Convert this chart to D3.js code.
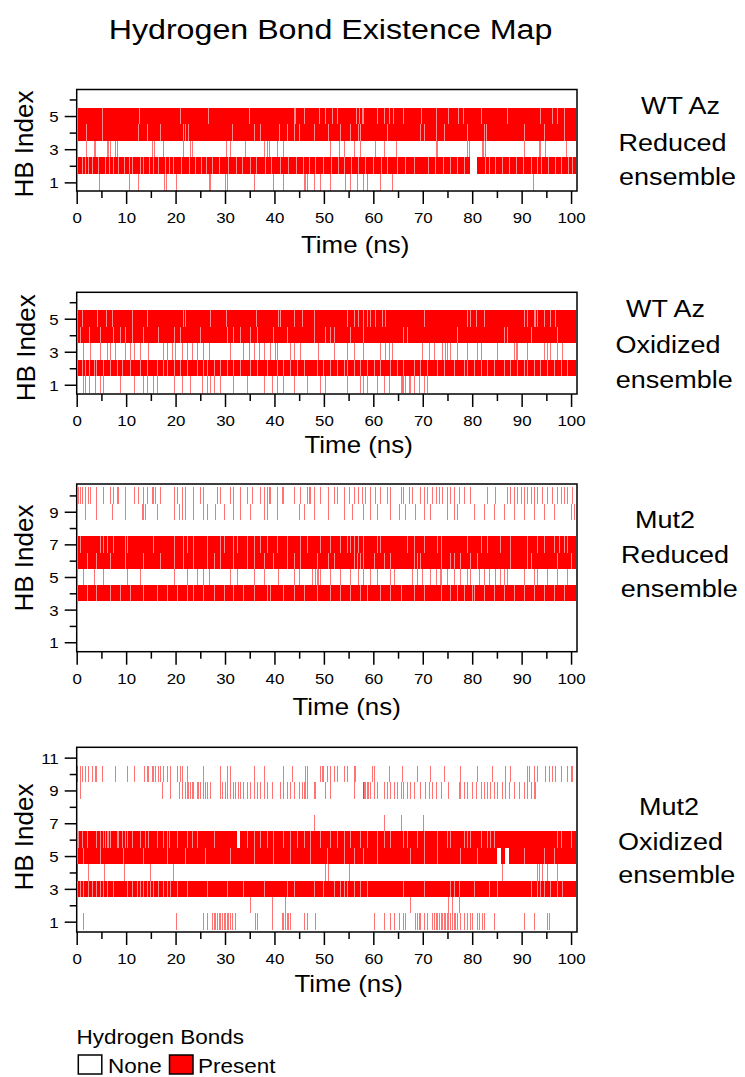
<!DOCTYPE html>
<html lang="en">
<head>
<meta charset="UTF-8">
<title>Hydrogen Bond Existence Map</title>
<style>
  body { margin: 0; background: #fff; }
  svg { display: block; font-family: "Liberation Sans", Arial, Helvetica, sans-serif; }
  .frame { fill: none; stroke: #000; stroke-width: 1.5; }
  .tick line { stroke: #000; stroke-width: 1.5; }
</style>
</head>
<body>
<svg width="745" height="1077"></svg>
<script src="https://d3js.org/d3.v7.min.js"></script>
<script>
// axis ticks
const timeMajor = [0, 10, 20, 30, 40, 50, 60, 70, 80, 90, 100];
const timeMinor = [5, 15, 25, 35, 45, 55, 65, 75, 85, 95];

// ---- WT Az, reduced ----  spans are [hb, start ns, end ns]
const wtRedSpans = [[5, 0.2, 101], [4, 0.2, 101], [2, 0.2, 79.6], [2, 80.9, 101]];
// short breaks (ns) inside the solid rows
const wtRed5 = [5.2, 12.7, 20.9, 26.5, 34.8, 44.0, 44.2, 45.9, 49.1, 50.3, 51.6, 52.6, 56.5, 57.2, 57.7, 58.0,
  60.8, 62.1, 63.1, 64.0, 66.1, 69.7, 72.6, 75.1, 77.1, 78.2, 81.7, 87.1, 93.7, 96.2, 97.2, 98.5];
const wtRed4 = [1.9, 5.2, 12.3, 14.2, 16.9, 21.5, 21.9, 22.6, 31.5, 35.8, 37.1, 41.0, 42.5, 43.9, 45.0, 47.9,
  50.9, 53.3, 55.3, 57.0, 57.4, 62.8, 69.4, 70.2, 72.7, 74.2, 79.0, 82.3, 82.7, 90.4, 94.5, 98.5];
const wtRed2 = [1.0, 1.6, 2.2, 3.0, 4.3, 5.8, 6.5, 7.4, 8.3, 9.6, 10.5, 11.2, 12.8, 13.5, 14.6, 15.5, 16.4, 17.8,
  18.6, 19.5, 21.1, 22.7, 24.0, 25.2, 26.1, 27.4, 28.8, 30.6, 32.2, 33.5, 35.0, 36.3, 38.0, 39.4, 41.2, 42.8,
  44.4, 45.8, 47.0, 48.3, 49.9, 51.4, 52.8, 54.1, 55.5, 57.0, 58.4, 60.0, 61.5, 62.7, 64.8, 66.5, 68.2, 71.0,
  72.5, 74.1, 75.6, 77.0, 78.4, 82.6, 83.4, 84.6, 86.0, 87.5, 88.9, 90.3, 91.8, 93.2, 94.0, 95.4, 96.8, 97.9, 99.3, 100.2];
// single-frame presences (ns) in the sparse rows
const wtRed3 = [1.9, 3.6, 3.8, 6.1, 6.4, 6.7, 7.8, 8.1, 15.2, 15.7, 17.5, 21.5, 22.9, 23.3, 30.1, 31.0, 34.1, 37.8,
  38.5, 38.8, 40.6, 41.8, 51.3, 53.0, 54.0, 56.0, 57.4, 60.4, 62.1, 64.5, 72.6, 72.9, 79.0, 79.3, 82.0, 82.2,
  82.5, 90.4, 93.5, 93.8, 94.8, 98.9];
const wtRed1 = [4.6, 10.5, 12.5, 17.7, 18.0, 20.0, 26.7, 26.9, 30.0, 30.4, 35.8, 39.8, 41.8, 45.9, 46.2, 46.6,
  47.9, 49.3, 51.3, 54.3, 55.3, 56.7, 58.0, 58.7, 61.4, 63.8, 92.3];

// ---- WT Az, oxidized ----
const wtOxSpans = [[5, 0.2, 101], [4, 0.2, 101], [2, 0.2, 101]];
const wtOx5 = [1.0, 4.2, 5.9, 7.1, 11.1, 14.2, 21.5, 21.9, 26.9, 30.2, 36.3, 40.8, 41.2, 43.9, 45.6, 47.9, 54.7,
  56.0, 57.0, 58.0, 58.7, 59.4, 60.4, 61.8, 62.4, 70.2, 79.0, 79.6, 80.7, 82.3, 90.4, 91.1, 92.5, 92.8, 93.1,
  94.5, 95.8, 96.8];
const wtOx4 = [0.7, 2.4, 4.7, 7.4, 8.8, 9.8, 11.1, 13.5, 16.5, 19.6, 20.9, 25.0, 30.4, 31.7, 33.1, 35.1, 36.4,
  39.8, 42.5, 47.9, 50.3, 51.3, 52.0, 55.3, 58.0, 66.1, 66.8, 76.9, 86.4, 87.1, 91.8, 97.2];
const wtOx2 = [1.0, 1.7, 2.4, 3.4, 4.0, 5.4, 6.7, 8.1, 9.1, 10.8, 12.8, 14.2, 16.2, 17.5, 18.2, 19.6, 20.9, 22.3,
  24.3, 25.6, 26.3, 27.7, 29.0, 30.4, 31.7, 33.1, 35.1, 36.4, 38.5, 40.5, 41.8, 43.2, 44.5, 45.9, 48.6, 49.9,
  51.3, 52.6, 54.0, 54.7, 56.0, 57.4, 58.7, 60.1, 61.4, 63.4, 64.8, 66.1, 68.2, 69.5, 70.9, 72.9, 74.2, 76.3,
  78.3, 79.0, 80.3, 81.7, 83.0, 84.4, 86.4, 87.7, 89.1, 90.4, 91.1, 92.5, 93.8, 95.2, 96.5, 97.9, 99.2];
const wtOx3 = [1.3, 2.6, 4.7, 6.1, 6.7, 7.8, 9.8, 10.8, 11.5, 12.8, 14.5, 17.5, 18.2, 19.2, 19.9, 21.3, 22.3, 23.3,
  24.3, 25.6, 26.7, 31.0, 33.7, 34.8, 35.8, 36.8, 37.8, 39.1, 40.2, 40.5, 43.2, 43.9, 45.2, 48.9, 52.0, 54.7,
  56.0, 58.0, 61.4, 62.4, 63.1, 63.8, 69.9, 71.2, 72.2, 73.9, 74.6, 74.9, 75.6, 76.9, 79.0, 81.0, 81.7, 85.0,
  88.4, 88.8, 89.1, 91.1, 94.5, 95.2, 95.8, 97.2, 98.2];
const wtOx1 = [1.3, 1.7, 2.4, 3.7, 4.7, 5.4, 8.8, 11.5, 13.5, 14.2, 15.5, 16.2, 19.6, 21.3, 22.9, 25.3, 26.3, 27.0,
  27.7, 29.0, 31.7, 34.4, 37.8, 39.5, 40.5, 41.8, 43.9, 46.6, 49.3, 50.3, 54.7, 57.4, 58.0, 58.7, 60.8, 62.1,
  63.1, 65.5, 65.8, 66.1, 66.5, 67.2, 67.5, 68.2, 69.2, 70.2, 70.9];

// ---- Mut2, reduced ----
const mutRedSpans = [[7, 0.2, 101], [6, 0.2, 101], [4, 0.2, 101]];
const mutRed7 = [0.7, 4.7, 5.4, 6.1, 7.4, 9.8, 10.1, 15.5, 19.6, 21.5, 22.3, 23.6, 26.3, 29.0, 29.7, 31.7, 32.4,
  34.4, 35.8, 37.1, 38.5, 40.5, 42.5, 45.2, 46.6, 49.3, 51.3, 53.3, 54.7, 55.3, 56.0, 57.0, 58.0, 60.8, 61.4,
  66.8, 68.2, 70.2, 72.9, 73.6, 79.0, 81.7, 83.0, 85.7, 87.7, 91.1, 93.1, 94.5, 96.5, 97.5, 98.5, 99.2];
const mutRed6 = [2.0, 4.0, 6.7, 9.8, 13.4, 16.9, 19.6, 21.5, 23.6, 26.3, 27.7, 29.0, 31.7, 34.4, 35.8, 37.8, 39.8,
  42.5, 43.9, 45.2, 48.6, 50.9, 52.0, 56.0, 56.7, 57.4, 58.0, 60.1, 62.1, 63.4, 68.2, 68.8, 69.5, 73.6, 75.6,
  76.3, 77.6, 79.6, 81.0, 87.7, 91.1, 91.8, 97.2, 99.9];
const mutRed4 = [2.0, 4.0, 6.7, 8.8, 10.8, 13.5, 16.2, 18.2, 20.2, 22.3, 23.6, 25.6, 27.7, 29.7, 31.7, 33.7, 35.8,
  38.5, 39.0, 41.8, 43.9, 45.9, 48.6, 51.3, 53.3, 55.3, 57.4, 58.7, 61.4, 63.4, 65.5, 68.2, 70.2, 73.6, 75.6,
  76.9, 78.3, 80.0, 80.3, 82.3, 84.4, 86.4, 88.4, 90.4, 92.5, 94.5, 96.5, 98.5];
const mutRed10 = [0.3, 0.7, 1.0, 1.7, 2.2, 2.7, 4.0, 5.4, 6.7, 7.4, 8.1, 8.4, 9.8, 11.5, 12.5, 13.5, 14.2, 15.2,
  15.5, 15.9, 16.9, 19.6, 20.2, 21.3, 21.9, 23.6, 25.0, 25.6, 28.3, 29.0, 31.0, 31.7, 33.1, 34.4, 35.4, 37.1,
  37.8, 38.5, 38.8, 39.1, 40.5, 41.5, 41.8, 43.9, 45.2, 46.6, 46.9, 47.2, 47.9, 49.3, 50.9, 52.0, 52.6, 54.0,
  55.0, 56.0, 57.0, 57.7, 58.4, 59.4, 60.4, 61.4, 62.8, 63.4, 65.5, 66.1, 67.2, 67.8, 69.5, 70.2, 70.9, 71.9,
  72.6, 73.2, 73.9, 74.9, 75.6, 76.3, 77.3, 78.3, 79.6, 83.0, 84.7, 87.1, 87.7, 88.4, 89.1, 89.8, 90.4, 91.1,
  91.8, 92.5, 93.1, 94.2, 95.2, 96.2, 97.2, 97.9, 98.5, 99.2, 100.2];
const mutRed9 = [1.7, 4.0, 7.1, 9.8, 13.2, 13.5, 13.8, 16.2, 19.6, 20.6, 21.3, 21.9, 23.6, 25.6, 26.3, 28.0, 29.7,
  31.7, 33.1, 35.1, 37.8, 38.5, 40.5, 44.9, 45.9, 47.9, 50.9, 54.0, 55.7, 58.0, 59.4, 60.8, 63.4, 65.1, 66.5,
  68.5, 70.2, 71.5, 74.9, 76.3, 76.9, 80.3, 82.3, 84.4, 86.4, 88.4, 90.4, 92.5, 94.5, 96.5, 99.9, 100.6];
const mutRed5 = [1.3, 3.5, 5.4, 10.1, 12.8, 19.6, 22.3, 24.3, 25.6, 26.7, 31.0, 32.4, 35.8, 37.8, 40.8, 43.9, 44.9,
  47.6, 48.3, 48.6, 48.9, 49.3, 51.3, 53.3, 55.3, 57.0, 58.0, 59.4, 60.8, 63.4, 64.1, 67.8, 68.8, 69.9, 71.5,
  72.6, 73.4, 73.6, 74.9, 76.3, 77.6, 79.0, 79.6, 81.3, 82.3, 83.4, 84.7, 85.7, 86.4, 87.1, 90.4, 92.5, 93.1,
  95.2, 97.2, 99.2];

// ---- Mut2, oxidized ----
const mutOxSpans = [[6, 0.2, 32.4], [6, 33.1, 101], [5, 0.2, 85.0], [5, 85.8, 86.7], [5, 87.4, 101], [3, 0.2, 101]];
const mutOx6 = [0.3, 1.0, 2.0, 4.0, 4.7, 5.4, 5.7, 6.1, 6.4, 6.7, 8.1, 8.4, 9.1, 9.8, 10.1, 11.1, 12.8, 13.8, 14.5,
  16.2, 17.5, 18.2, 18.6, 20.2, 22.3, 23.3, 24.3, 27.7, 34.4, 35.8, 37.1, 38.5, 39.8, 41.8, 43.2, 44.5, 45.9,
  47.2, 49.3, 51.3, 52.6, 54.0, 55.3, 57.4, 58.7, 60.8, 62.1, 63.4, 66.1, 66.8, 68.8, 70.2, 72.9, 74.9, 75.6,
  78.3, 79.0, 79.6, 81.7, 83.0, 83.7, 84.4, 97.2, 97.9, 99.9];
const mutOx5 = [1.3, 4.7, 9.4, 13.5, 18.2, 21.9, 26.0, 31.0, 35.8, 39.8, 43.2, 47.2, 50.6, 54.0, 56.0, 58.0, 60.8,
  67.5, 70.2, 72.9, 77.6, 81.0, 90.4, 94.5, 96.5];
const mutOx3 = [0.7, 1.3, 2.2, 3.0, 4.0, 4.7, 5.4, 6.1, 7.4, 10.1, 11.1, 12.1, 12.8, 13.5, 14.2, 14.8, 15.5, 16.5,
  17.5, 18.2, 18.9, 20.2, 22.3, 26.3, 30.4, 33.7, 37.8, 42.5, 43.9, 47.9, 49.9, 52.0, 53.3, 54.0, 54.7, 56.0,
  57.4, 58.7, 66.1, 70.2, 75.6, 76.3, 77.3, 80.3, 83.4, 85.0, 91.8, 93.1, 93.8, 94.5, 95.8, 97.2, 98.2];
const mutOx10 = [0.1, 0.7, 1.0, 1.7, 2.2, 3.0, 3.7, 4.0, 5.1, 7.8, 10.1, 11.5, 13.6, 14.2, 14.5, 15.2, 15.5, 15.9,
  16.5, 16.9, 17.5, 18.2, 18.9, 20.2, 20.9, 21.3, 22.3, 25.6, 29.0, 30.4, 31.0, 35.9, 37.8, 41.8, 43.5, 46.2,
  46.6, 49.3, 49.6, 49.9, 50.6, 51.3, 52.0, 52.6, 54.0, 54.7, 56.0, 56.3, 59.7, 60.1, 63.1, 65.8, 68.8, 71.5,
  74.2, 77.6, 81.0, 84.0, 86.7, 87.7, 91.1, 91.5, 92.5, 93.1, 94.8, 95.5, 96.2, 96.8, 97.9, 99.2, 99.9, 100.2];
const mutOx9 = [0.7, 17.2, 18.9, 20.6, 21.3, 21.9, 22.3, 22.6, 22.9, 23.3, 23.6, 24.3, 24.6, 25.0, 25.6, 26.0,
  26.3, 27.0, 29.0, 29.4, 30.0, 30.4, 31.0, 31.7, 32.1, 32.7, 33.1, 33.7, 34.4, 35.1, 35.8, 36.4, 37.1, 37.8,
  38.5, 39.5, 41.2, 41.8, 42.5, 43.2, 43.9, 44.9, 45.6, 45.9, 46.2, 46.6, 47.9, 48.3, 50.3, 51.3, 56.0, 57.9,
  58.0, 58.2, 58.4, 58.7, 59.0, 59.4, 60.1, 60.8, 62.1, 62.8, 63.4, 64.1, 64.8, 65.5, 66.1, 66.8, 67.5, 68.2,
  69.5, 70.5, 71.2, 71.9, 72.6, 73.6, 75.2, 77.3, 77.6, 78.3, 79.0, 80.0, 80.7, 81.7, 82.3, 83.0, 83.7, 84.4,
  85.0, 86.1, 86.7, 87.4, 88.4, 89.4, 90.4, 91.1, 91.8, 92.5, 92.8];
const mutOx7 = [47.9, 62.1, 65.7, 70.0];
const mutOx4 = [0.1, 2.2, 5.5, 9.6, 14.8, 19.4, 50.3, 50.9, 55.0, 86.0, 93.1, 93.5, 94.2, 95.2, 97.2];
const mutOx2 = [35.0, 39.5, 42.2, 67.5, 75.2, 75.9, 77.3];
const mutOx1 = [1.2, 20.1, 25.6, 26.3, 27.3, 27.7, 28.0, 28.3, 28.7, 29.0, 29.4, 29.7, 30.0, 30.4, 30.7, 31.0,
  31.4, 32.1, 36.1, 36.4, 39.5, 41.5, 41.8, 42.2, 42.5, 42.8, 43.2, 45.9, 46.6, 48.3, 60.1, 62.1, 63.4, 64.1,
  65.1, 66.1, 66.5, 68.5, 68.8, 69.2, 69.5, 70.2, 70.9, 71.9, 72.2, 72.6, 72.9, 73.2, 73.6, 73.9, 74.2, 74.6,
  74.9, 75.2, 75.6, 75.9, 76.3, 76.6, 76.9, 77.6, 78.3, 79.0, 79.6, 80.0, 81.0, 81.3, 82.0, 82.3, 84.4, 90.4,
  92.5, 95.2, 95.5];

// side captions
const wtRedLabel = ["WT Az", "Reduced", "ensemble"];
const wtOxLabel = ["WT Az", "Oxidized", "ensemble"];
const mutRedLabel = ["Mut2", "Reduced", "ensemble"];
const mutOxLabel = ["Mut2", "Oxidized", "ensemble"];

const panels = [
  { top: 89.5, bottom: 191, yDomain: [0.48, 6.6], yMajor: [1, 3, 5], yMinor: [2, 4, 6],
    spans: wtRedSpans, gaps: [[5, wtRed5], [4, wtRed4], [2, wtRed2]], hits: [[3, wtRed3], [1, wtRed1]],
    timeAt: [301, 252.7], hbAt: [33.3, 144],
    label: wtRedLabel, labelAt: [[641, 114.3], [618.5, 150.7], [619, 185]] },
  { top: 292.3, bottom: 394, yDomain: [0.44, 6.6], yMajor: [1, 3, 5], yMinor: [2, 4, 6],
    spans: wtOxSpans, gaps: [[5, wtOx5], [4, wtOx4], [2, wtOx2]], hits: [[3, wtOx3], [1, wtOx1]],
    timeAt: [304.5, 452.7], hbAt: [35, 347.7],
    label: wtOxLabel, labelAt: [[626, 316.7], [615.5, 353.3], [615.7, 388.3]] },
  { top: 484, bottom: 651.7, yDomain: [0.42, 10.7], yMajor: [1, 3, 5, 7, 9], yMinor: [2, 4, 6, 8, 10],
    spans: mutRedSpans, gaps: [[7, mutRed7], [6, mutRed6], [4, mutRed4]],
    hits: [[10, mutRed10], [9, mutRed9], [5, mutRed5]],
    timeAt: [292.5, 715], hbAt: [33.3, 558],
    label: mutRedLabel, labelAt: [[635, 528.3], [621, 562.7], [620.7, 596.7]] },
  { top: 747.3, bottom: 932, yDomain: [0.37, 11.63], yMajor: [1, 3, 5, 7, 9, 11], yMinor: [2, 4, 6, 8, 10],
    spans: mutOxSpans, gaps: [[6, mutOx6], [5, mutOx5], [3, mutOx3]],
    hits: [[10, mutOx10], [9, mutOx9], [7, mutOx7], [4, mutOx4], [2, mutOx2], [1, mutOx1]],
    timeAt: [294.5, 991.7], hbAt: [33.3, 837],
    label: mutOxLabel, labelAt: [[639, 815], [618, 850], [618.3, 883.3]] }
];

const svg = d3.select("svg");
const stretch = 1.125;   // the original text is a bit wider than Arial

const x = d3.scaleLinear().domain([0, 101.2]).range([76.7, 577]);

svg.append("text")
    .attr("transform", `translate(330.5,38.5) scale(1.15,1)`)
    .attr("text-anchor", "middle")
    .attr("font-size", 28)
    .text("Hydrogen Bond Existence Map");

panels.forEach(p => {
  const y = d3.scaleLinear().domain(p.yDomain).range([p.bottom, p.top]);
  const g = svg.append("g");
  const bandTop = hb => y(hb + 0.5);
  const bandH = hb => y(hb - 0.5) - y(hb + 0.5);

  g.append("g").attr("shape-rendering", "crispEdges")
    .selectAll("rect").data(p.spans).join("rect")
      .attr("x", d => x(d[1]))
      .attr("width", d => x(d[2]) - x(d[1]))
      .attr("y", d => bandTop(d[0]))
      .attr("height", d => bandH(d[0]))
      .attr("fill", "#ff0000");

  p.gaps.forEach(([hb, ts]) => {
    g.append("g").attr("shape-rendering", "crispEdges")
      .selectAll("rect").data(ts).join("rect")
        .attr("x", t => x(t))
        .attr("width", 1)
        .attr("y", bandTop(hb))
        .attr("height", bandH(hb))
        .attr("fill", "#ffffff")
        .attr("opacity", 0.55);
  });

  p.hits.forEach(([hb, ts]) => {
    g.append("g").attr("shape-rendering", "crispEdges")
      .selectAll("rect").data(ts).join("rect")
        .attr("x", t => x(t))
        .attr("width", 1)
        .attr("y", bandTop(hb))
        .attr("height", bandH(hb))
        .attr("fill", "#ff0000")
        .attr("opacity", 0.55);
  });

  // axes
  const xa = g.append("g").attr("transform", `translate(0,${p.bottom})`);
  xa.append("g").call(d3.axisBottom(x).tickValues(timeMinor).tickSize(7).tickFormat(() => ""));
  xa.append("g").call(d3.axisBottom(x).tickValues(timeMajor).tickSize(13).tickFormat(d3.format("d")));
  xa.selectAll(".domain").remove();
  xa.selectAll("g").attr("font-family", null).attr("font-size", 15);
  xa.selectAll("text").attr("y", 0).attr("dy", null).attr("fill", "#000")
      .attr("transform", `translate(0,32) scale(${stretch},1)`);

  const ya = g.append("g").attr("transform", `translate(${x(0)},0)`);
  ya.append("g").call(d3.axisLeft(y).tickValues(p.yMinor).tickSize(7).tickFormat(() => ""));
  ya.append("g").call(d3.axisLeft(y).tickValues(p.yMajor).tickSize(12).tickFormat(d3.format("d")));
  ya.selectAll(".domain").remove();
  ya.selectAll("g").attr("font-family", null).attr("font-size", 15);
  ya.selectAll("text").attr("x", 0).attr("dy", "0.36em").attr("fill", "#000")
      .attr("transform", `translate(-18,0) scale(${stretch},1)`);

  g.append("rect").attr("class", "frame")
      .attr("x", x(0)).attr("y", p.top)
      .attr("width", x.range()[1] - x(0)).attr("height", p.bottom - p.top);

  g.append("text")
      .attr("transform", `translate(${p.timeAt[0]},${p.timeAt[1]}) scale(${stretch},1)`)
      .attr("font-size", 23)
      .text("Time (ns)");

  g.append("text")
      .attr("transform", `translate(${p.hbAt[0]},${p.hbAt[1]}) rotate(-90)`)
      .attr("text-anchor", "middle")
      .attr("font-size", 26)
      .text("HB Index");

  p.label.forEach((s, i) => {
    g.append("text")
        .attr("transform", `translate(${p.labelAt[i][0]},${p.labelAt[i][1]}) scale(${stretch},1)`)
        .attr("font-size", 24)
        .text(s);
  });
});

// legend
const legendItems = ["None", "Present"];
const legendFill = ["#ffffff", "#ff0000"];
const lg = svg.append("g");
lg.append("text")
    .attr("transform", `translate(76.5,1044.3) scale(${stretch},1)`)
    .attr("font-size", 20)
    .text("Hydrogen Bonds");
const boxX = [78.3, 169.5];
const textX = [108, 198];
legendItems.forEach((s, i) => {
  lg.append("rect")
      .attr("x", boxX[i]).attr("y", 1055)
      .attr("width", 23.5).attr("height", 19)
      .attr("fill", legendFill[i]).attr("stroke", "#000").attr("stroke-width", 1.5);
  lg.append("text")
      .attr("transform", `translate(${textX[i]},1073.3) scale(${stretch},1)`)
      .attr("font-size", 20)
      .text(s);
});
</script>
</body>
</html>
